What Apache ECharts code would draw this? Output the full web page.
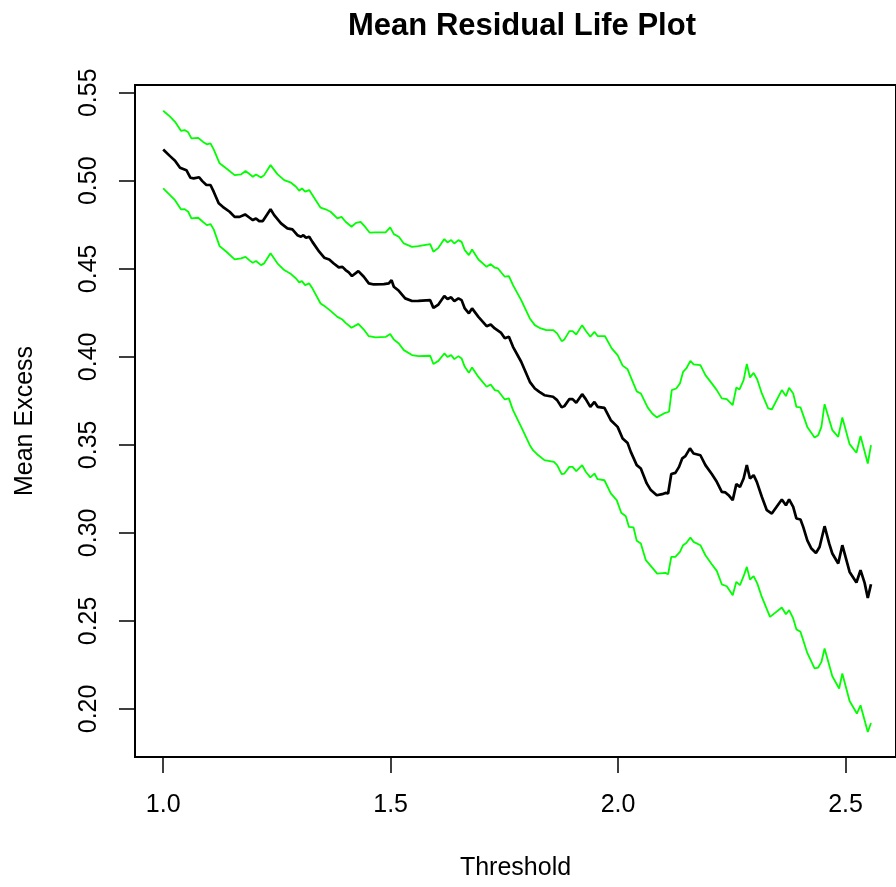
<!DOCTYPE html>
<html>
<head>
<meta charset="utf-8">
<script src="https://cdn.jsdelivr.net/npm/echarts@6/dist/echarts.min.js"></script>
<style>html,body{margin:0;padding:0;background:#fff}#c{width:896px;height:887px}</style>
</head>
<body>
<div id="c"></div>
<script>
const meanX = [1.000,1.015,1.026,1.037,1.044,1.051,1.060,1.067,1.079,1.086,1.095,1.104,1.111,1.122,1.131,1.146,1.157,1.168,1.180,1.190,1.197,1.204,1.211,1.219,1.236,1.244,1.259,1.273,1.284,1.295,1.303,1.308,1.314,1.321,1.328,1.343,1.354,1.365,1.375,1.386,1.394,1.401,1.408,1.415,1.429,1.441,1.452,1.463,1.485,1.496,1.502,1.507,1.518,1.532,1.547,1.561,1.587,1.594,1.605,1.618,1.625,1.633,1.640,1.649,1.656,1.663,1.672,1.679,1.693,1.711,1.720,1.729,1.743,1.751,1.760,1.769,1.787,1.806,1.817,1.827,1.838,1.857,1.866,1.876,1.882,1.893,1.900,1.908,1.921,1.929,1.939,1.948,1.955,1.970,1.984,1.999,2.010,2.021,2.028,2.032,2.041,2.050,2.063,2.072,2.085,2.097,2.104,2.110,2.117,2.126,2.134,2.141,2.148,2.158,2.166,2.181,2.192,2.206,2.217,2.228,2.236,2.243,2.252,2.260,2.268,2.276,2.283,2.290,2.298,2.305,2.316,2.327,2.338,2.360,2.369,2.376,2.385,2.392,2.401,2.407,2.416,2.425,2.435,2.443,2.454,2.464,2.471,2.484,2.493,2.502,2.509,2.524,2.533,2.542,2.549,2.556];
const meanY = [0.5178,0.5140,0.5114,0.5074,0.5067,0.5060,0.5017,0.5014,0.5020,0.4998,0.4976,0.4976,0.4938,0.4872,0.4852,0.4824,0.4795,0.4795,0.4809,0.4790,0.4777,0.4786,0.4771,0.4771,0.4838,0.4805,0.4758,0.4730,0.4724,0.4691,0.4682,0.4691,0.4676,0.4682,0.4653,0.4597,0.4563,0.4553,0.4530,0.4508,0.4511,0.4493,0.4480,0.4459,0.4487,0.4455,0.4417,0.4411,0.4413,0.4417,0.4436,0.4398,0.4375,0.4332,0.4317,0.4318,0.4322,0.4278,0.4297,0.4345,0.4328,0.4338,0.4317,0.4332,0.4322,0.4275,0.4247,0.4275,0.4227,0.4174,0.4184,0.4161,0.4136,0.4105,0.4114,0.4057,0.3972,0.3858,0.3820,0.3801,0.3782,0.3773,0.3754,0.3713,0.3720,0.3760,0.3760,0.3739,0.3788,0.3760,0.3716,0.3744,0.3716,0.3710,0.3640,0.3602,0.3536,0.3510,0.3460,0.3457,0.3385,0.3366,0.3281,0.3243,0.3214,0.3220,0.3227,0.3224,0.3334,0.3341,0.3375,0.3423,0.3436,0.3480,0.3451,0.3441,0.3385,0.3334,0.3290,0.3233,0.3230,0.3214,0.3186,0.3277,0.3261,0.3309,0.3385,0.3309,0.3328,0.3290,0.3205,0.3129,0.3110,0.3190,0.3157,0.3190,0.3148,0.3082,0.3076,0.3034,0.2958,0.2911,0.2886,0.2920,0.3038,0.2940,0.2883,0.2826,0.2930,0.2845,0.2778,0.2718,0.2788,0.2716,0.2631,0.2708];

const upperX = [1.000,1.015,1.026,1.039,1.047,1.055,1.062,1.077,1.087,1.096,1.104,1.111,1.124,1.139,1.157,1.171,1.181,1.191,1.197,1.204,1.215,1.222,1.236,1.251,1.266,1.281,1.292,1.299,1.305,1.312,1.321,1.328,1.346,1.357,1.368,1.383,1.392,1.401,1.414,1.424,1.434,1.445,1.454,1.467,1.489,1.499,1.507,1.518,1.529,1.547,1.561,1.587,1.594,1.605,1.618,1.625,1.633,1.640,1.649,1.656,1.663,1.672,1.679,1.693,1.711,1.720,1.729,1.736,1.751,1.760,1.769,1.787,1.806,1.817,1.827,1.842,1.857,1.866,1.876,1.882,1.893,1.900,1.908,1.921,1.929,1.939,1.948,1.955,1.971,1.986,1.999,2.010,2.021,2.028,2.032,2.041,2.050,2.065,2.075,2.085,2.104,2.112,2.118,2.128,2.136,2.143,2.150,2.159,2.166,2.181,2.192,2.206,2.217,2.228,2.239,2.252,2.260,2.267,2.276,2.283,2.290,2.298,2.306,2.316,2.330,2.338,2.360,2.369,2.376,2.385,2.392,2.401,2.416,2.432,2.440,2.447,2.454,2.471,2.484,2.493,2.509,2.524,2.533,2.549,2.556];
const upperY = [0.5398,0.5364,0.5335,0.5284,0.5288,0.5275,0.5241,0.5244,0.5222,0.5207,0.5212,0.5178,0.5099,0.5070,0.5032,0.5036,0.5055,0.5036,0.5023,0.5036,0.5019,0.5032,0.5089,0.5038,0.5004,0.4989,0.4966,0.4943,0.4957,0.4938,0.4947,0.4919,0.4847,0.4838,0.4824,0.4786,0.4795,0.4767,0.4739,0.4761,0.4767,0.4735,0.4705,0.4707,0.4707,0.4735,0.4697,0.4682,0.4644,0.4625,0.4629,0.4640,0.4597,0.4619,0.4669,0.4650,0.4663,0.4644,0.4663,0.4653,0.4606,0.4578,0.4610,0.4553,0.4511,0.4527,0.4506,0.4502,0.4455,0.4459,0.4407,0.4322,0.4218,0.4180,0.4165,0.4152,0.4152,0.4133,0.4089,0.4099,0.4146,0.4146,0.4127,0.4180,0.4148,0.4114,0.4142,0.4118,0.4118,0.4048,0.4010,0.3950,0.3929,0.3885,0.3886,0.3804,0.3792,0.3713,0.3678,0.3656,0.3682,0.3688,0.3811,0.3820,0.3849,0.3915,0.3934,0.3977,0.3957,0.3953,0.3896,0.3849,0.3811,0.3764,0.3760,0.3726,0.3826,0.3815,0.3868,0.3959,0.3883,0.3909,0.3871,0.3792,0.3707,0.3701,0.3811,0.3777,0.3824,0.3792,0.3716,0.3713,0.3602,0.3542,0.3555,0.3602,0.3731,0.3584,0.3545,0.3656,0.3504,0.3455,0.3550,0.3394,0.3498];

const lowerX = [1.000,1.015,1.026,1.039,1.047,1.055,1.062,1.077,1.087,1.096,1.104,1.111,1.124,1.139,1.157,1.171,1.181,1.191,1.197,1.204,1.215,1.222,1.236,1.251,1.266,1.281,1.292,1.299,1.305,1.312,1.321,1.328,1.346,1.357,1.368,1.383,1.394,1.401,1.414,1.429,1.441,1.452,1.467,1.489,1.499,1.507,1.518,1.529,1.547,1.561,1.587,1.594,1.605,1.618,1.625,1.633,1.640,1.649,1.656,1.663,1.672,1.679,1.693,1.711,1.720,1.729,1.736,1.751,1.760,1.769,1.787,1.806,1.813,1.824,1.838,1.859,1.866,1.876,1.882,1.893,1.900,1.908,1.921,1.929,1.939,1.948,1.955,1.970,1.984,1.997,2.007,2.017,2.024,2.034,2.041,2.050,2.061,2.075,2.086,2.104,2.110,2.117,2.126,2.136,2.143,2.150,2.159,2.166,2.181,2.192,2.206,2.217,2.228,2.239,2.252,2.260,2.268,2.276,2.283,2.290,2.298,2.306,2.316,2.334,2.360,2.369,2.376,2.385,2.392,2.401,2.416,2.432,2.440,2.447,2.454,2.471,2.486,2.493,2.509,2.525,2.533,2.549,2.556];
const lowerY = [0.4957,0.4919,0.4890,0.4838,0.4839,0.4824,0.4786,0.4790,0.4767,0.4748,0.4754,0.4724,0.4629,0.4597,0.4553,0.4559,0.4568,0.4545,0.4534,0.4544,0.4521,0.4531,0.4588,0.4531,0.4493,0.4470,0.4445,0.4423,0.4430,0.4407,0.4417,0.4389,0.4303,0.4284,0.4261,0.4227,0.4212,0.4193,0.4165,0.4187,0.4155,0.4117,0.4111,0.4113,0.4130,0.4098,0.4076,0.4038,0.4010,0.4004,0.4006,0.3959,0.3977,0.4019,0.4000,0.4010,0.3987,0.4004,0.3991,0.3943,0.3909,0.3940,0.3886,0.3830,0.3843,0.3811,0.3807,0.3758,0.3764,0.3697,0.3602,0.3498,0.3470,0.3442,0.3413,0.3403,0.3385,0.3334,0.3337,0.3375,0.3375,0.3351,0.3385,0.3347,0.3315,0.3337,0.3305,0.3299,0.3224,0.3186,0.3114,0.3095,0.3034,0.3031,0.2955,0.2940,0.2845,0.2803,0.2769,0.2773,0.2765,0.2864,0.2864,0.2892,0.2930,0.2943,0.2974,0.2949,0.2930,0.2873,0.2822,0.2784,0.2708,0.2697,0.2646,0.2722,0.2703,0.2754,0.2807,0.2735,0.2754,0.2713,0.2636,0.2523,0.2576,0.2538,0.2561,0.2514,0.2452,0.2438,0.2318,0.2230,0.2235,0.2267,0.2343,0.2186,0.2116,0.2201,0.2045,0.1974,0.2021,0.1869,0.1920];

const xTicks = [1.0, 1.5, 2.0, 2.5];
const yTicks = [0.20, 0.25, 0.30, 0.35, 0.40, 0.45, 0.50, 0.55];

const pairs = (xs, ys) => xs.map((x, i) => [x, ys[i]]);
const FONT = '"Liberation Sans", Arial, Helvetica, sans-serif';

const chart = echarts.init(document.getElementById('c'), null, {renderer: 'canvas'});
chart.setOption({
  animation: false,
  backgroundColor: '#ffffff',
  title: {
    text: 'Mean Residual Life Plot',
    left: 517, top: 6, textAlign: 'center',
    textStyle: {fontFamily: FONT, fontWeight: 'bold', fontSize: 31, color: '#000'}
  },
  grid: {
    left: 135, top: 85, width: 765, height: 672,
    show: true, borderColor: '#000', borderWidth: 2, backgroundColor: 'transparent'
  },
  xAxis: {
    type: 'value', min: 0.938, max: 2.611,
    name: 'Threshold', nameLocation: 'middle', nameGap: 99,
    nameTextStyle: {fontFamily: FONT, fontSize: 25, color: '#000'},
    axisLine: {show: false},
    splitLine: {show: false},
    axisTick: {show: true, length: 16, inside: false, customValues: xTicks, lineStyle: {color: '#000', width: 1.5}},
    axisLabel: {customValues: xTicks, margin: 36, fontFamily: FONT, fontSize: 25, color: '#000',
      formatter: v => Number(v).toFixed(1)}
  },
  yAxis: {
    type: 'value', min: 0.1727, max: 0.5544,
    name: 'Mean Excess', nameLocation: 'middle', nameGap: 97, nameRotate: 90,
    nameTextStyle: {fontFamily: FONT, fontSize: 25, color: '#000'},
    axisLine: {show: false},
    splitLine: {show: false},
    axisTick: {show: true, length: 16, inside: false, customValues: yTicks, lineStyle: {color: '#000', width: 1.5}},
    axisLabel: {customValues: yTicks, rotate: 90, margin: 33, fontFamily: FONT, fontSize: 25, color: '#000',
      formatter: v => Number(v).toFixed(2)}
  },
  series: [
    {type: 'line', name: 'mean', data: pairs(meanX, meanY), showSymbol: false, symbol: 'none',
      lineStyle: {color: '#000000', width: 2.7}, clip: true},
    {type: 'line', name: 'upper', data: pairs(upperX, upperY), showSymbol: false, symbol: 'none',
      lineStyle: {color: '#00ff00', width: 1.8}, clip: true},
    {type: 'line', name: 'lower', data: pairs(lowerX, lowerY), showSymbol: false, symbol: 'none',
      lineStyle: {color: '#00ff00', width: 1.8}, clip: true}
  ]
});
</script>
</body>
</html>
